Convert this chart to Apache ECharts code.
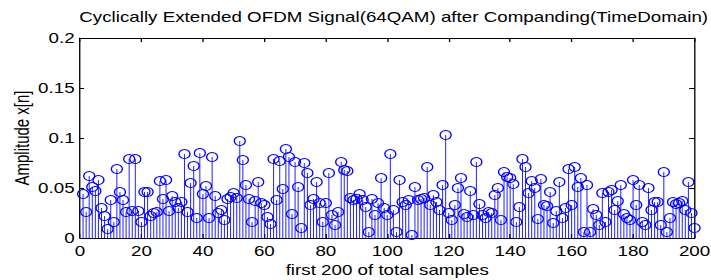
<!doctype html>
<html>
<head>
<meta charset="UTF-8">
<title>OFDM stem</title>
<script src="https://cdn.jsdelivr.net/npm/echarts@6/dist/echarts.min.js"></script>
<style>
  html, body { margin: 0; padding: 0; background: #fff; overflow: hidden; }
  /* the reference picture is stretched sideways, so the chart is too */
  #container { width: 531px; height: 280px; transform: scaleX(1.34); transform-origin: 0 0; }
</style>
</head>
<body>
<div id="container"></div>
<script>
var titleText = 'Cyclically Extended OFDM Signal(64QAM) after Companding(TimeDomain)';
var xName = 'first 200 of total samples';
var yName = 'Amplitude x[n]';

// amplitude of samples 1..200
var amp1 = [0.044, 0.026, 0.062, 0.051, 0.047, 0.058, 0.030, 0.022, 0.009, 0.038, 0.016, 0.069, 0.046, 0.038, 0.026, 0.079, 0.027, 0.079, 0.027, 0.016];
var amp2 = [0.046, 0.046, 0.022, 0.025, 0.026, 0.057, 0.039, 0.058, 0.027, 0.042, 0.036, 0.030, 0.036, 0.084, 0.026, 0.055, 0.072, 0.020, 0.085, 0.044];
var amp3 = [0.052, 0.020, 0.081, 0.042, 0.025, 0.028, 0.018, 0.039, 0.041, 0.045, 0.040, 0.097, 0.078, 0.053, 0.039, 0.016, 0.037, 0.056, 0.035, 0.033];
var amp4 = [0.021, 0.014, 0.079, 0.038, 0.077, 0.049, 0.089, 0.081, 0.024, 0.076, 0.051, 0.010, 0.075, 0.065, 0.033, 0.039, 0.056, 0.035, 0.016, 0.035];
var amp5 = [0.065, 0.023, 0.013, 0.026, 0.076, 0.068, 0.067, 0.040, 0.038, 0.039, 0.044, 0.038, 0.031, 0.006, 0.039, 0.023, 0.035, 0.060, 0.030, 0.023];
var amp6 = [0.084, 0.028, 0.006, 0.058, 0.036, 0.033, 0.038, 0.003, 0.051, 0.038, 0.039, 0.040, 0.071, 0.033, 0.043, 0.036, 0.028, 0.053, 0.103, 0.025, 0.018];
var amp7 = [0.033, 0.050, 0.060, 0.024, 0.021, 0.047, 0.023, 0.076, 0.034, 0.023, 0.020, 0.026, 0.025, 0.043, 0.050, 0.018, 0.066, 0.061, 0.060];
var amp8 = [0.054, 0.016, 0.031, 0.079, 0.071, 0.045, 0.057, 0.050, 0.019, 0.059, 0.033, 0.032, 0.046, 0.015, 0.027, 0.056, 0.020, 0.030, 0.069, 0.033];
var amp9 = [0.071, 0.051, 0.060, 0.006, 0.053, 0.006, 0.029, 0.023, 0.013, 0.045, 0.016, 0.046, 0.048, 0.028, 0.037, 0.053, 0.024, 0.020, 0.018, 0.058, 0.033];
var amp10 = [0.053, 0.016, 0.013, 0.050, 0.028, 0.036, 0.036, 0.013, 0.066, 0.006, 0.020, 0.036, 0.034, 0.035, 0.037, 0.028, 0.056, 0.025, 0.010];

var amp = [].concat(amp1, amp2, amp3, amp4, amp5, amp6, amp7, amp8, amp9, amp10);

var points = [];
for (var i = 0; i < amp.length; i++) {
    points.push([i + 1, amp[i]]);
}

var sx = 1.34;   // horizontal stretch, must match the css above
var fontName = 'Liberation Sans';
var fontSize = 14;
var stemColor = '#0000ff';

var myChart = echarts.init(document.getElementById('container'), null, {renderer: 'svg'});

var boxAxis = {
    axisLine: {show: true, onZero: false, lineStyle: {color: '#000', width: 1}},
    axisTick: {show: true, inside: true, length: 4, lineStyle: {color: '#000'}},
    axisLabel: {show: false},
    splitLine: {show: false}
};

option = {
    backgroundColor: '#fff',
    animation: false,
    title: {
        text: titleText,
        left: 387 / sx,
        textAlign: 'center',
        top: 5,
        textStyle: {fontFamily: fontName, fontSize: fontSize, fontWeight: 'normal', color: '#000'}
    },
    grid: {left: 80 / sx, right: 17 / sx, top: 38, bottom: 42, outerBoundsMode: 'none', containLabel: false},
    xAxis: [{
        type: 'value',
        min: 0, max: 200, interval: 20,
        name: xName,
        nameLocation: 'middle',
        nameGap: 23,
        nameTextStyle: {fontFamily: fontName, fontSize: fontSize, color: '#000'},
        axisLine: {show: true, onZero: false, lineStyle: {color: '#000', width: 1}},
        axisTick: {inside: true, length: 4, lineStyle: {color: '#000'}},
        axisLabel: {fontFamily: fontName, fontSize: fontSize, color: '#000', margin: 6},
        splitLine: {show: false}
    }, Object.assign({type: 'value', position: 'top', min: 0, max: 200, interval: 20}, boxAxis)],
    yAxis: [{
        type: 'value',
        min: 0, max: 0.2, interval: 0.05,
        name: yName,
        nameLocation: 'middle',
        nameGap: 36,
        nameMoveOverlap: false,
        nameTextStyle: {fontFamily: fontName, fontSize: 15, color: '#000'},
        axisLine: {show: true, onZero: false, lineStyle: {color: '#000', width: 1}},
        axisTick: {show: true, inside: true, length: 4 / sx, lineStyle: {color: '#000'}},
        axisLabel: {fontFamily: fontName, fontSize: fontSize, color: '#000', margin: 4},
        splitLine: {show: false}
    }, Object.assign({type: 'value', position: 'right', min: 0, max: 0.2, interval: 0.05}, boxAxis)],
    series: [{
        type: 'custom',
        xAxisIndex: 0, yAxisIndex: 0,
        data: points,
        renderItem: function (params, api) {
            var p0 = api.coord([api.value(0), 0]);
            var p1 = api.coord([api.value(0), api.value(1)]);
            return {
                type: 'line',
                shape: {x1: p0[0], y1: p0[1], x2: p1[0], y2: p1[1]},
                style: {stroke: stemColor, lineWidth: 1 / sx}
            };
        },
        z: 2
    }, {
        type: 'scatter',
        xAxisIndex: 0, yAxisIndex: 0,
        data: points,
        symbol: 'circle',
        symbolSize: [11 / sx, 9],
        itemStyle: {color: 'rgba(0,0,0,0)', borderColor: stemColor, borderWidth: 1, opacity: 1},
        z: 3
    }]
};

myChart.setOption(option);
</script>
</body>
</html>
